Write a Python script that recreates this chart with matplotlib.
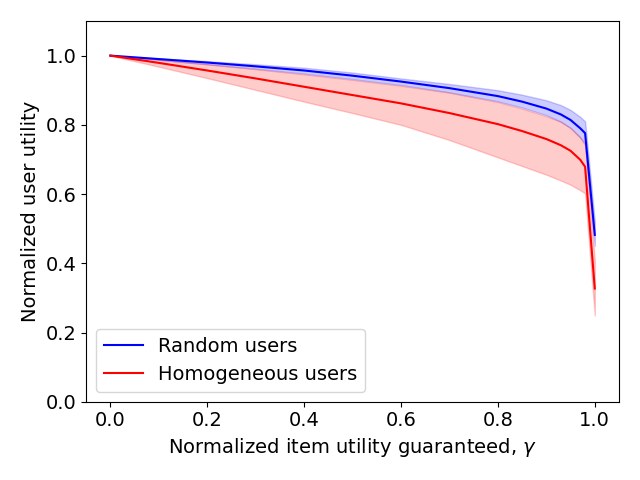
import matplotlib
matplotlib.use("Agg")
import matplotlib.pyplot as plt
import numpy as np

gamma = [0.0, 0.1, 0.2, 0.3, 0.4, 0.5, 0.6, 0.7, 0.8, 0.85, 0.9, 0.93, 0.95, 0.97, 0.98, 1.0]

rand_mean = [1.0, 0.99, 0.98, 0.969, 0.957, 0.942, 0.925, 0.906, 0.883, 0.867, 0.847, 0.83, 0.814, 0.79, 0.776, 0.482]
rand_low = [1.0, 0.988, 0.975, 0.962, 0.948, 0.932, 0.915, 0.894, 0.868, 0.85, 0.828, 0.809, 0.791, 0.763, 0.745, 0.45]
rand_high = [1.0, 0.992, 0.984, 0.975, 0.965, 0.951, 0.934, 0.918, 0.9, 0.887, 0.871, 0.857, 0.843, 0.823, 0.81, 0.52]

homo_mean = [1.0, 0.979, 0.957, 0.934, 0.91, 0.886, 0.862, 0.834, 0.802, 0.782, 0.759, 0.741, 0.725, 0.699, 0.679, 0.327]
homo_low = [1.0, 0.968, 0.935, 0.901, 0.867, 0.834, 0.8, 0.756, 0.706, 0.681, 0.656, 0.639, 0.627, 0.611, 0.602, 0.249]
homo_high = [1.0, 0.988, 0.975, 0.961, 0.946, 0.93, 0.913, 0.893, 0.866, 0.847, 0.825, 0.809, 0.791, 0.764, 0.742, 0.41]

plt.rcParams['font.size'] = 14
fig, ax = plt.subplots(figsize=(6.4, 4.8), dpi=100)

ax.plot(gamma, rand_mean, color='blue', label='Random users')
ax.fill_between(gamma, rand_low, rand_high, color='blue', alpha=0.2)
ax.plot(gamma, homo_mean, color='red', label='Homogeneous users')
ax.fill_between(gamma, homo_low, homo_high, color='red', alpha=0.2)

ax.set_ylim(0, 1.1)
ax.set_xlabel(r'Normalized item utility guaranteed, $\gamma$')
ax.set_ylabel('Normalized user utility')
ax.legend(loc='lower left')
fig.tight_layout()
fig.savefig('out.png')
